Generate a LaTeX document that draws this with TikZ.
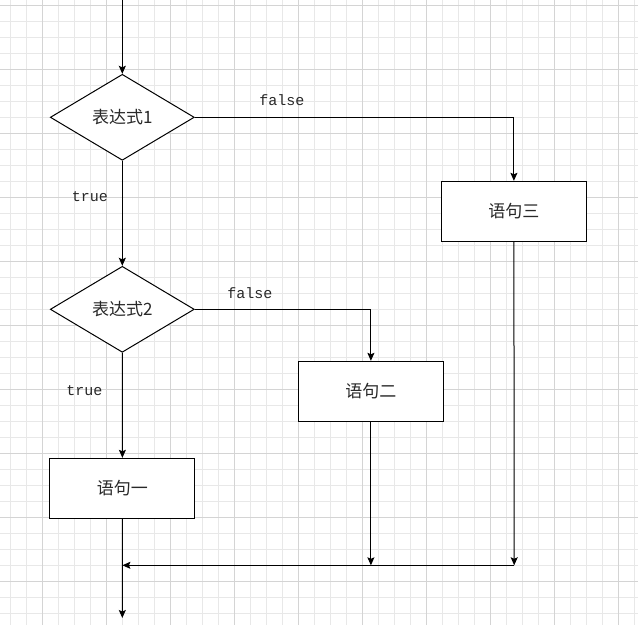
\documentclass[tikz,border=0pt]{standalone}
\usepackage{fontspec}
\newfontfamily\cjk{Noto Sans CJK SC}
\setmonofont{Liberation Mono}
\usepackage{tikz}
\usetikzlibrary{shapes.geometric, arrows.meta, positioning}

\definecolor{gridminor}{RGB}{232,232,232}
\definecolor{gridmajor}{RGB}{212,212,212}
\definecolor{textgray}{RGB}{40,40,40}

\tikzset{
    decision/.style={diamond, draw, line width=1pt, fill=white, inner sep=0pt,
        minimum width=144pt, minimum height=86pt, font=\cjk\fontsize{17}{17}\selectfont, text=textgray},
    stmtbox/.style={rectangle, draw, line width=1pt, fill=white, inner sep=0pt,
        minimum width=145pt, minimum height=60pt, font=\cjk\fontsize{17}{17}\selectfont, text=textgray},
    lbl/.style={inner sep=0pt, font=\ttfamily\fontsize{15}{15}\selectfont, text=textgray},
    flow/.style={draw, line width=1pt, -{Stealth[length=8pt, width=7pt, inset=1.5pt]}},
}

\begin{document}
\begin{tikzpicture}[x=1pt, y=-1pt]
    \useasboundingbox (0,0) rectangle (638,635);
    \fill[white] (0,0) rectangle (638,635);
    % grid paper
    \foreach \gx in {0,...,39}
        \draw[gridminor, line width=0.7pt] (10.7+16*\gx,0) -- (10.7+16*\gx,625);
    \foreach \gy in {0,...,38}
        \draw[gridminor, line width=0.7pt] (0,5.3+16*\gy) -- (638,5.3+16*\gy);
    \foreach \gx in {0,...,9}
        \draw[gridmajor, line width=0.8pt] (42.7+64*\gx,0) -- (42.7+64*\gx,625);
    \foreach \gy in {0,...,9}
        \draw[gridmajor, line width=0.8pt] (0,5.3+64*\gy) -- (638,5.3+64*\gy);

    % nodes
    \node[decision] (expr1) at (122.3,117.3) {表达式1};
    \node[decision] (expr2) at (122.3,309.3) {表达式2};
    \node[stmtbox] (stmt1) at (122.4,488.3) {语句一};
    \node[stmtbox] (stmt2) at (370.9,391.3) {语句二};
    \node[stmtbox] (stmt3) at (513.9,211.3) {语句三};

    \coordinate (start) at (122.3,0);
    \coordinate (join3) at (514.2,565.3);
    \coordinate (join2) at (stmt2.south |- join3);
    \coordinate (merge) at (stmt1.south |- join3);
    \coordinate (stop) at (122.3,618);

    % labels
    \node[lbl] (false1) at (282,100) {false};
    \node[lbl] (true1) at (90,197) {true};
    \node[lbl] (false2) at (250,292.7) {false};
    \node[lbl] (true2) at (84.5,390.7) {true};

    % connectors
    \draw[flow] (start) -- (expr1.north);
    \draw[flow] (expr1.east) -| (stmt3.north);
    \draw[flow] (expr1.south) -- (expr2.north);
    \draw[flow] (expr2.east) -| (stmt2.north);
    \draw[flow] (expr2.south) -- (stmt1.north);
    \draw[flow] (stmt3.south) -- (join3);
    \draw[flow] (stmt2.south) -- (join2);
    \draw[flow] (join3) -- (merge);
    \draw[flow] (stmt1.south) -- (stop);
\end{tikzpicture}
\end{document}
